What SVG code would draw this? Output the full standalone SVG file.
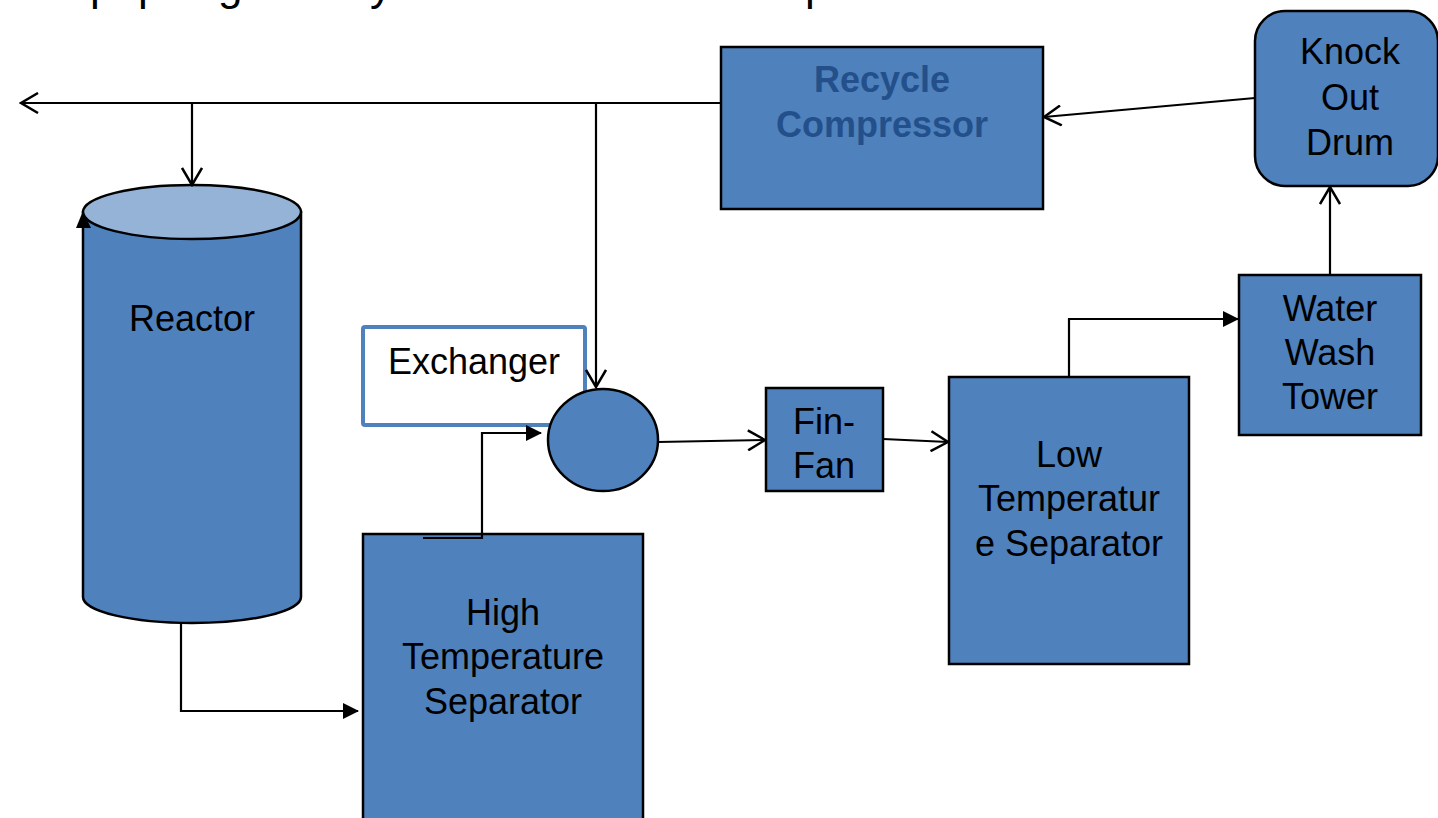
<svg xmlns="http://www.w3.org/2000/svg" width="1438" height="818" viewBox="0 0 1438 818">
<defs>
<style>
.box{fill:#4F81BD;stroke:#000;stroke-width:2.5}
.lbl{font-family:"Liberation Sans",Arial,sans-serif;font-size:36px;fill:#000;text-anchor:middle}
.bold{font-weight:bold;fill:#23508A}
.conn{fill:none;stroke:#000;stroke-width:2.2}
</style>
<marker id="open" viewBox="0 0 20 22" markerUnits="userSpaceOnUse" markerWidth="20" markerHeight="22" refX="18" refY="11" orient="auto">
<path d="M1,1 L18,11 L1,21" fill="none" stroke="#000" stroke-width="2.5"/>
</marker>
<marker id="fill" viewBox="0 0 16 16" markerUnits="userSpaceOnUse" markerWidth="16" markerHeight="16" refX="15" refY="8" orient="auto">
<path d="M0,0 L16,8 L0,16 Z" fill="#000"/>
</marker>
</defs>
<rect width="1438" height="818" fill="#fff"/>
<text x="90 138 218 370 805" y="0" font-family="Liberation Sans, Arial, sans-serif" font-size="44" fill="#000">ppgyp</text>

<g id="reactor">
<path class="box" d="M83,212 L83,597 A109,26 0 0 0 301,597 L301,212 Z"/>
<ellipse cx="192" cy="212" rx="109" ry="27" fill="#95B3D7" stroke="#000" stroke-width="2.5"/>
<path d="M76,228 L83,211 L91,228 Z" fill="#000"/>
<text class="lbl" x="192" y="331">Reactor</text>
</g>
<g id="recycle-compressor">
<rect class="box" x="721" y="47" width="322" height="162"/>
<text class="lbl bold" x="882" y="92">Recycle</text>
<text class="lbl bold" x="882" y="137">Compressor</text>
</g>
<g id="knock-out-drum">
<rect class="box" x="1255" y="11" width="183" height="175" rx="30" ry="30"/>
<text class="lbl" x="1350" y="64">Knock</text>
<text class="lbl" x="1350" y="110">Out</text>
<text class="lbl" x="1350" y="155">Drum</text>
</g>
<g id="exchanger">
<rect x="363" y="327" width="222" height="98" rx="2" fill="#fff" stroke="#4F81BD" stroke-width="4"/>
<text class="lbl" x="474" y="374">Exchanger</text>
</g>
<g id="mixer">
<ellipse class="box" cx="603" cy="440" rx="55" ry="51"/>
</g>
<g id="fin-fan">
<rect class="box" x="766" y="388" width="117" height="103"/>
<text class="lbl" x="824" y="434">Fin-</text>
<text class="lbl" x="824" y="478">Fan</text>
</g>
<g id="low-temperature-separator">
<rect class="box" x="949" y="377" width="240" height="287"/>
<text class="lbl" x="1069" y="467">Low</text>
<text class="lbl" x="1069" y="511">Temperatur</text>
<text class="lbl" x="1069" y="556">e Separator</text>
</g>
<g id="water-wash-tower">
<rect class="box" x="1239" y="275" width="182" height="160"/>
<text class="lbl" x="1330" y="321">Water</text>
<text class="lbl" x="1330" y="365">Wash</text>
<text class="lbl" x="1330" y="409">Tower</text>
</g>
<g id="high-temperature-separator">
<rect class="box" x="363" y="534" width="280" height="300"/>
<text class="lbl" x="503" y="625">High</text>
<text class="lbl" x="503" y="669">Temperature</text>
<text class="lbl" x="503" y="714">Separator</text>
</g>

<g id="connectors">
<path class="conn" d="M721,103 L21,103" marker-end="url(#open)"/>
<path class="conn" d="M192,103 L192,185" marker-end="url(#open)"/>
<path class="conn" d="M596,103 L596,387" marker-end="url(#open)"/>
<path class="conn" d="M1255,98 L1044,117" marker-end="url(#open)"/>
<path class="conn" d="M1330,275 L1330,187" marker-end="url(#open)"/>
<path class="conn" d="M1069,377 L1069,319 L1238,319" marker-end="url(#fill)"/>
<path class="conn" d="M658,442 L765,440" marker-end="url(#open)"/>
<path class="conn" d="M883,439 L948,442" marker-end="url(#open)"/>
<path class="conn" d="M423,538 L482,538 L482,433 L541,433" marker-end="url(#fill)"/>
<path class="conn" d="M181,623 L181,711 L358,711" marker-end="url(#fill)"/>
</g>
</svg>
